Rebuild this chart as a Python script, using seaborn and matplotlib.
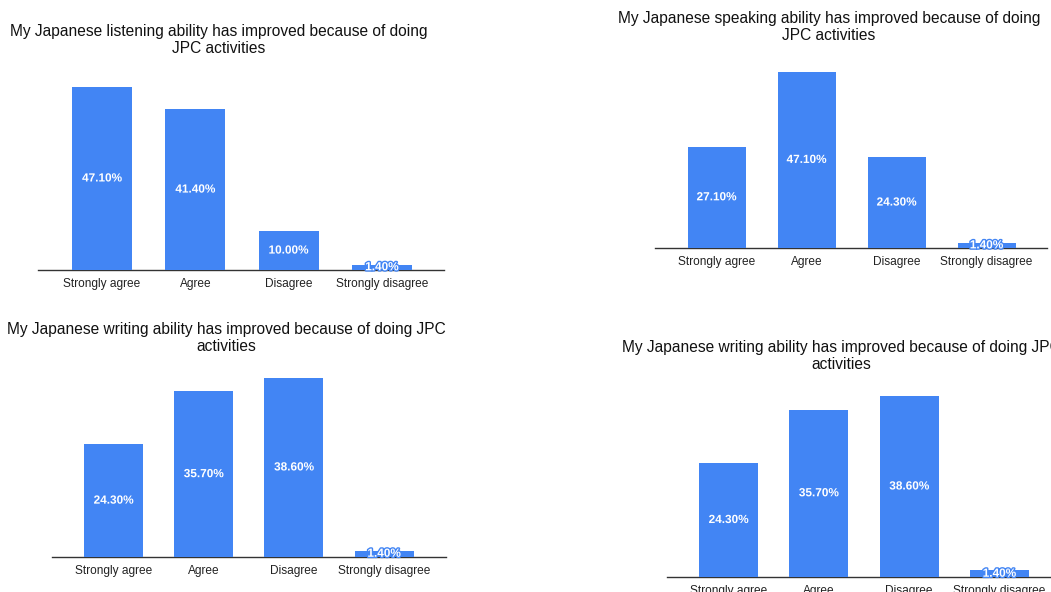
import matplotlib
matplotlib.use("Agg")
import matplotlib.pyplot as plt
import matplotlib.patheffects as pe
import seaborn as sns

# Survey answers shared by every chart
categories = ["Strongly agree", "Agree", "Disagree", "Strongly disagree"]

# Percentages per question
listening = [47.1, 41.4, 10.0, 1.4]
speaking = [27.1, 47.1, 24.3, 1.4]
writing = [24.3, 35.7, 38.6, 1.4]
writing_copy = [24.3, 35.7, 38.6, 1.4]

titles = [
    "My Japanese listening ability has improved because of doing\nJPC activities",
    "My Japanese speaking ability has improved because of doing\nJPC activities",
    "My Japanese writing ability has improved because of doing JPC\nactivities",
    "My Japanese writing ability has improved because of doing JPC\nactivities",
]
series = [listening, speaking, writing, writing_copy]

BLUE = "#4285F4"
W, H = 1051, 592

sns.set_theme(style="white")
plt.rcParams["font.family"] = ["Liberation Sans", "DejaVu Sans"]

fig = plt.figure(figsize=(W / 100, H / 100), dpi=100)
fig.patch.set_facecolor("white")

# Panel layout in pixels: axis left/right, baseline, px per percent,
# first bar centre, bar spacing, bar width, title centre x, title first-line y
layout = [
    dict(l=38, r=444, base=270, k=3.886, c0=102, s=93.3, bw=60, tx=219, ty=30.5),
    dict(l=655, r=1047, base=248, k=3.74, c0=716.5, s=90.0, bw=58, tx=829, ty=17.5),
    dict(l=52, r=446, base=557, k=4.64, c0=113.5, s=90.2, bw=59, tx=226.5, ty=328.5),
    dict(l=667, r=1059, base=577, k=4.69, c0=728.5, s=90.3, bw=59, tx=841, ty=346.5),
]

YMAX = 50.0
for vals, title, g in zip(series, titles, layout):
    h_px = g["k"] * YMAX
    ax = fig.add_axes([g["l"] / W, 1 - g["base"] / H, (g["r"] - g["l"]) / W, h_px / H])
    ax.set_facecolor("none")
    sns.barplot(x=categories, y=vals, color=BLUE, saturation=1,
                width=g["bw"] / g["s"], ax=ax, zorder=3)
    ax.set_xlim((g["l"] - g["c0"]) / g["s"], (g["r"] - g["c0"]) / g["s"])
    ax.set_ylim(0, YMAX)
    for bar in ax.patches:
        bar.set_edgecolor("none")
    labels = [f"{v:.2f}%" for v in vals]
    texts = ax.bar_label(ax.containers[0], labels=labels, label_type="center",
                         color="white", fontsize=8.5, fontweight="bold", zorder=5)
    for t in texts:
        t.set_path_effects([pe.withStroke(linewidth=2, foreground=BLUE)])
    for side in ("left", "top", "right"):
        ax.spines[side].set_visible(False)
    ax.spines["bottom"].set_color("#333333")
    ax.spines["bottom"].set_linewidth(1.0)
    ax.spines["bottom"].set_zorder(2)
    ax.set_yticks([])
    ax.tick_params(axis="x", length=0, pad=5.5, labelsize=8.6, labelcolor="#222222")
    ax.set_xlabel("")
    ax.set_ylabel("")
    fig.text(g["tx"] / W, 1 - (g["ty"] + 9.5) / H, title, ha="center", va="center",
             multialignment="center", fontsize=11.2, color="#111111", linespacing=1.2)

fig.savefig("out.png", dpi=100, facecolor="white")
